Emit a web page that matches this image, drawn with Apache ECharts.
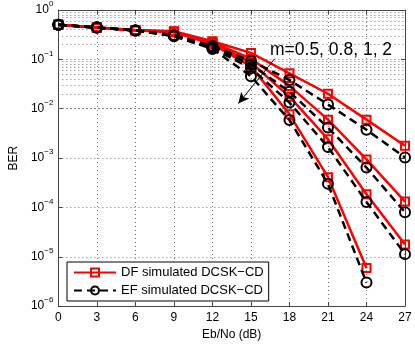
<!DOCTYPE html>
<html>
<head>
<meta charset="utf-8">
<script src="https://cdn.jsdelivr.net/npm/echarts@6/dist/echarts.min.js"></script>
<style>
html,body{margin:0;padding:0;background:#fff;}
#chart{width:415px;height:346px;}
</style>
</head>
<body>
<div id="chart"></div>
<script>
// Eb/No (dB)
const ebno = [0, 3, 6, 9, 12, 15, 18, 21, 24, 27];
const xTicks = ['0','3','6','9','12','15','18','21','24','27'];
// DF simulated DCSK-CD, m = 0.5, 0.8, 1, 2
const dfM05 = [0.5, 0.44, 0.39, 0.37, 0.233, 0.135, 0.052, 0.0201, 0.0060, 0.00178];
const dfM08 = [0.5, 0.44, 0.39, 0.365, 0.223, 0.103, 0.029, 0.0060, 0.00094, 0.000131];
const dfM1  = [0.5, 0.44, 0.39, 0.36, 0.213, 0.086, 0.0175, 0.00241, 0.000184, 0.0000178];
const dfM2  = [0.5, 0.44, 0.39, 0.355, 0.204, 0.072, 0.0077, 0.00041, 0.0000059, null];
// EF simulated DCSK-CD, m = 0.5, 0.8, 1, 2
const efM05 = [0.5, 0.44, 0.385, 0.31, 0.186, 0.094, 0.038, 0.0122, 0.00374, 0.00103];
const efM08 = [0.5, 0.44, 0.385, 0.305, 0.178, 0.079, 0.022, 0.00415, 0.00064, 0.00008];
const efM1  = [0.5, 0.44, 0.385, 0.30, 0.17, 0.066, 0.0133, 0.00167, 0.000129, 0.0000113];
const efM2  = [0.5, 0.44, 0.385, 0.295, 0.162, 0.0455, 0.0059, 0.0003, 0.000003, null];
const dfName = 'DF simulated DCSK\u2212CD';
const efName = 'EF simulated DCSK\u2212CD';
const annotation = 'm=0.5, 0.8, 1, 2';

const FONT = '"Liberation Sans", Arial, Helvetica, sans-serif';
const gridColor = '#7a7a7a';
const dotted = [1, 3];

function pairs(arr) {
  const out = [];
  arr.forEach((v, i) => { if (v !== null) out.push([ebno[i], v]); });
  return out;
}

// minor log gridlines 2..9 x 10^k
const minorLines = [];
for (let k = -6; k <= -1; k++) {
  for (let m = 2; m <= 9; m++) minorLines.push({ yAxis: m * Math.pow(10, k) });
}

function dfSeries(arr, extra) {
  return Object.assign({
    name: dfName, type: 'line', data: pairs(arr),
    symbol: 'rect', symbolSize: 8,
    lineStyle: { color: '#ff0000', width: 2.5, type: 'solid' },
    itemStyle: { color: 'rgba(255,255,255,0)', borderColor: '#ff0000', borderWidth: 2 },
    emphasis: { disabled: true }, z: 3
  }, extra || {});
}
function efSeries(arr, extra) {
  return Object.assign({
    name: efName, type: 'line', data: pairs(arr),
    symbol: 'circle', symbolSize: 10,
    lineStyle: { color: '#000000', width: 2.5, type: [8, 5] },
    itemStyle: { color: 'rgba(255,255,255,0)', borderColor: '#000000', borderWidth: 2 },
    emphasis: { disabled: true }, z: 4
  }, extra || {});
}

const chart = echarts.init(document.getElementById('chart'), null, { renderer: 'canvas' });
const option = {
  animation: false,
  backgroundColor: '#fff',
  textStyle: { fontFamily: FONT },
  grid: { left: 43, right: 10, top: 10, bottom: 32, containLabel: false },
  legend: {
    data: [dfName, efName],
    orient: 'vertical',
    left: 67, top: 262,
    backgroundColor: '#fff',
    borderColor: '#000', borderWidth: 1, borderRadius: 0,
    padding: [4, 5, 4, 6],
    itemWidth: 42, itemHeight: 10, itemGap: 5,
    textStyle: { fontFamily: FONT, fontSize: 13, color: '#000' },
    selectedMode: false
  },
  xAxis: [{
    type: 'value', min: 0, max: 27, interval: 3,
    name: 'Eb/No (dB)', nameLocation: 'middle', nameGap: 20,
    nameTextStyle: { fontFamily: FONT, fontSize: 12, color: '#000' },
    axisLine: { show: true, onZero: false, lineStyle: { color: '#444', width: 1 } },
    axisTick: { show: true, inside: true, length: 4, lineStyle: { color: '#444' } },
    axisLabel: { margin: 6, fontFamily: FONT, fontSize: 12, color: '#000',
      formatter: (v) => xTicks[ebno.indexOf(v)] !== undefined ? xTicks[ebno.indexOf(v)] : '' },
    splitLine: { show: true, lineStyle: { color: gridColor, width: 1, type: dotted } }
  }, {
    type: 'value', min: 0, max: 27, interval: 3, position: 'top',
    axisLine: { show: true, onZero: false, lineStyle: { color: '#444', width: 1 } },
    axisTick: { show: true, inside: true, length: 4, lineStyle: { color: '#444' } },
    axisLabel: { show: false }, splitLine: { show: false }
  }],
  yAxis: [{
    type: 'log', logBase: 10, min: 1e-6, max: 1,
    name: 'BER', nameLocation: 'middle', nameGap: 30, nameRotate: 90,
    nameTextStyle: { fontFamily: FONT, fontSize: 12, color: '#000' },
    axisLine: { show: true, onZero: false, lineStyle: { color: '#444', width: 1 } },
    axisTick: { show: true, inside: true, length: 4, lineStyle: { color: '#444' } },
    axisLabel: {
      margin: 5, fontFamily: FONT, color: '#000',
      formatter: (v) => {
        const e = Math.round(Math.log10(v));
        return '{b|10}{s|' + (e < 0 ? '\u2212' + (-e) : e) + '}';
      },
      rich: {
        b: { fontSize: 12, lineHeight: 20, fontFamily: FONT, color: '#000' },
        s: { fontSize: 8, lineHeight: 9, verticalAlign: 'top', fontFamily: FONT, color: '#000' }
      }
    },
    splitLine: { show: true, lineStyle: { color: gridColor, width: 1, type: dotted } }
  }, {
    type: 'log', logBase: 10, min: 1e-6, max: 1, position: 'right',
    axisLine: { show: true, onZero: false, lineStyle: { color: '#444', width: 1 } },
    axisTick: { show: true, inside: true, length: 4, lineStyle: { color: '#444' } },
    axisLabel: { show: false }, splitLine: { show: false }
  }],
  series: [
    dfSeries(dfM05, {
      markLine: {
        silent: true, symbol: ['none', 'none'], label: { show: false },
        lineStyle: { color: gridColor, width: 1, type: dotted },
        emphasis: { disabled: true },
        data: minorLines, z: 1
      }
    }),
    dfSeries(dfM08),
    dfSeries(dfM1),
    dfSeries(dfM2),
    efSeries(efM05, {
      markLine: {
        silent: true, symbol: ['none', 'arrow'], symbolSize: [8, 11], label: { show: false },
        lineStyle: { color: '#000', width: 1, type: 'solid' },
        emphasis: { disabled: true },
        data: [[{ coord: [16.85, 0.103] }, { coord: [14.02, 0.0127] }]]
      }
    }),
    efSeries(efM08),
    efSeries(efM1),
    efSeries(efM2)
  ],
  graphic: [{
    type: 'text', left: 270, top: 41, silent: true, z: 10,
    style: { text: annotation, fontFamily: FONT, fontSize: 17.5, fill: '#000' }
  }]
};
chart.setOption(option);
</script>
</body>
</html>
